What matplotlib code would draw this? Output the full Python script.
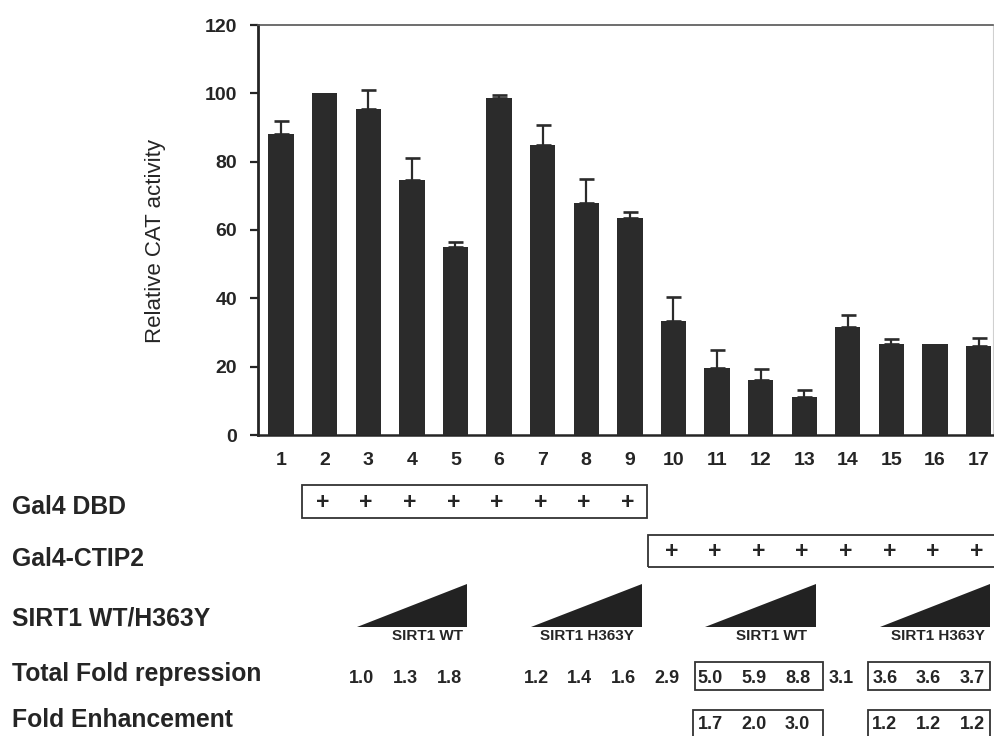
import matplotlib
matplotlib.use('Agg')
import matplotlib.pyplot as plt
import numpy as np
from matplotlib import transforms
from matplotlib.patches import Rectangle, Polygon

plt.rcParams['font.family'] = ['Liberation Sans', 'DejaVu Sans']

# ---------------- data ----------------
lanes = list(range(1, 18))
activity = [88, 100, 95.5, 74.5, 55, 98.5, 85, 68, 63.5, 33.5, 19.5, 16, 11, 31.5, 26.5, 26.5, 26]
error = [4, 0, 5.4, 6.5, 1.4, 1.0, 5.6, 6.8, 1.7, 6.9, 5.5, 3.2, 2.3, 3.7, 1.7, 0, 2.5]

gal4_dbd_lanes = [2, 3, 4, 5, 6, 7, 8, 9]
gal4_ctip2_lanes = [10, 11, 12, 13, 14, 15, 16, 17]
sirt1_groups = [(3, 5), (7, 9), (11, 13), (15, 17)]
sirt1_labels = ['SIRT1 WT', 'SIRT1 H363Y', 'SIRT1 WT', 'SIRT1 H363Y']

fold_rep_lanes = [3, 4, 5, 7, 8, 9, 10, 11, 12, 13, 14, 15, 16, 17]
fold_rep_vals = ['1.0', '1.3', '1.8', '1.2', '1.4', '1.6', '2.9', '5.0', '5.9', '8.8', '3.1', '3.6', '3.6', '3.7']
fold_rep_boxes = [(11, 13), (15, 17)]

fold_enh_lanes = [11, 12, 13, 15, 16, 17]
fold_enh_vals = ['1.7', '2.0', '3.0', '1.2', '1.2', '1.2']
fold_enh_boxes = [(11, 13), (15, 17)]

row_labels = ['Gal4 DBD', 'Gal4-CTIP2', 'SIRT1 WT/H363Y', 'Total Fold repression', 'Fold Enhancement']

# ---------------- layout ----------------
W, H = 994, 736
fig = plt.figure(figsize=(W / 100, H / 100), dpi=100)
ax = fig.add_axes([258 / W, 1 - 435 / H, (993 - 258) / W, (435 - 25) / H])

def fy(p):
    return 1 - p / H

ink = '#252525'
bar_c = '#2b2b2b'

ax.bar(lanes, activity, width=0.58, color=bar_c, zorder=3)
lan = np.array(lanes)
act = np.array(activity)
err = np.array(error)
m = err > 0
ax.errorbar(lan[m], act[m], yerr=[np.zeros(m.sum()), err[m]], fmt='none',
            ecolor=bar_c, elinewidth=1.6, capsize=5.4, capthick=1.9, zorder=2)

ax.set_xlim(0.47, 17.33)
ax.set_ylim(0, 120)
ax.set_yticks(range(0, 121, 20))
ax.set_xticks(lanes)
ax.tick_params(axis='x', length=0, pad=12, labelsize=14, colors=ink)
ax.tick_params(axis='y', length=6, width=1.6, pad=9, labelsize=14, direction='out', colors=ink)
for lbl in ax.get_xticklabels() + ax.get_yticklabels():
    lbl.set_fontweight('bold')

ax.spines['left'].set_linewidth(2.0)
ax.spines['left'].set_color(ink)
ax.spines['bottom'].set_linewidth(1.8)
ax.spines['bottom'].set_color(ink)
ax.spines['top'].set_linewidth(1.2)
ax.spines['top'].set_color('#555555')
ax.spines['right'].set_linewidth(0.8)
ax.spines['right'].set_color('#d0d0d0')

fig.text(155 / W, fy(241), 'Relative CAT activity', rotation=90, ha='center', va='center',
         fontsize=16, color=ink)

tr = transforms.blended_transform_factory(ax.transData, fig.transFigure)

# row labels
label_baselines = [514, 566, 625, 681, 727]
for lab, b in zip(row_labels, label_baselines):
    fig.text(12 / W, fy(b), lab, ha='left', va='baseline', fontsize=17.8,
             fontweight='bold', color=ink)

def box(lo, hi, top, bot, padl, padr):
    r = Rectangle((lo - padl, fy(bot)), (hi + padr) - (lo - padl), (bot - top) / H,
                  transform=tr, fill=False, edgecolor='#333333', linewidth=1.3, clip_on=False)
    ax.add_patch(r)

# Gal4 DBD
for l in gal4_dbd_lanes:
    ax.text(l - 0.05, fy(509), '+', transform=tr, ha='center', va='baseline',
            fontsize=16.5, fontweight='bold', color=ink, clip_on=False)
box(min(gal4_dbd_lanes), max(gal4_dbd_lanes), 485, 518, 0.52, 0.4)

# Gal4-CTIP2
for l in gal4_ctip2_lanes:
    ax.text(l - 0.05, fy(558), '+', transform=tr, ha='center', va='baseline',
            fontsize=16.5, fontweight='bold', color=ink, clip_on=False)
box(min(gal4_ctip2_lanes), max(gal4_ctip2_lanes), 535, 567, 0.58, 0.5)

# SIRT1 triangles
label_x = [4.35, 8.02, 12.26, 16.07]
for (lo, hi), lab, lx in zip(sirt1_groups, sirt1_labels, label_x):
    tri = Polygon([(lo - 0.27, fy(627)), (hi + 0.27, fy(627)), (hi + 0.27, fy(584))],
                  closed=True, transform=tr, facecolor='#222222', edgecolor='none', clip_on=False)
    ax.add_patch(tri)
    ax.text(lx, fy(640), lab, transform=tr, ha='center', va='baseline', fontsize=11,
            fontweight='bold', color=ink, clip_on=False)

# Total fold repression
for l, v in zip(fold_rep_lanes, fold_rep_vals):
    ax.text(l - 0.15, fy(683), v, transform=tr, ha='center', va='baseline', fontsize=13,
            fontweight='bold', color=ink, clip_on=False)
rep_pads = [(0.5, 0.43), (0.54, 0.27)]
for (lo, hi), (pl, pr) in zip(fold_rep_boxes, rep_pads):
    box(lo, hi, 662, 690, pl, pr)

# Fold enhancement
for l, v in zip(fold_enh_lanes, fold_enh_vals):
    ax.text(l - 0.15, fy(729), v, transform=tr, ha='center', va='baseline', fontsize=13,
            fontweight='bold', color=ink, clip_on=False)
enh_pads = [(0.55, 0.43), (0.54, 0.27)]
for (lo, hi), (pl, pr) in zip(fold_enh_boxes, enh_pads):
    box(lo, hi, 710, 745, pl, pr)

fig.savefig('out.png', dpi=100)
